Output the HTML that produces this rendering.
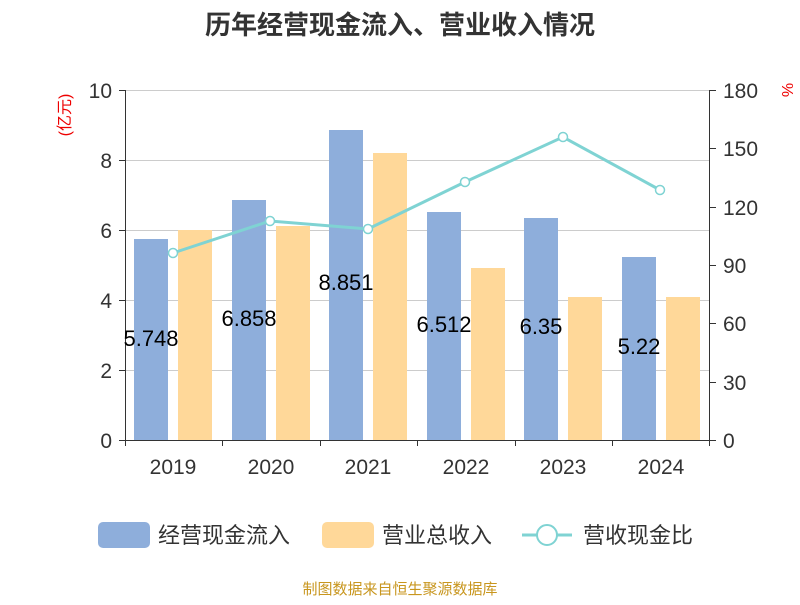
<!DOCTYPE html>
<html><head><meta charset="utf-8"><style>body{margin:0;background:#fff}</style></head><body>
<svg width="800" height="600" xmlns="http://www.w3.org/2000/svg" font-family="'Liberation Sans','Noto Sans CJK SC',sans-serif">
<text x="400" y="34" text-anchor="middle" font-size="26" font-weight="bold" fill="#333">历年经营现金流入、营业收入情况</text>
<g stroke="#ccc" stroke-width="1">
<line x1="125" y1="90.5" x2="710" y2="90.5"/><line x1="125" y1="160.5" x2="710" y2="160.5"/><line x1="125" y1="230.5" x2="710" y2="230.5"/><line x1="125" y1="300.5" x2="710" y2="300.5"/><line x1="125" y1="370.5" x2="710" y2="370.5"/>
</g>
<g fill="#8eaedb">
<rect x="134" y="239" width="34" height="201"/><rect x="232" y="200" width="34" height="240"/><rect x="329" y="130" width="34" height="310"/><rect x="427" y="212" width="34" height="228"/><rect x="524" y="218" width="34" height="222"/><rect x="622" y="257" width="34" height="183"/>
</g>
<g fill="#ffd899">
<rect x="178" y="230" width="34" height="210"/><rect x="276" y="226" width="34" height="214"/><rect x="373" y="153" width="34" height="287"/><rect x="471" y="268" width="34" height="172"/><rect x="568" y="297" width="34" height="143"/><rect x="666" y="297" width="34" height="143"/>
</g>
<g stroke="#333" stroke-width="1" fill="none">
<line x1="125.5" y1="90" x2="125.5" y2="440"/><line x1="709.5" y1="90" x2="709.5" y2="440"/><line x1="125" y1="440.5" x2="710" y2="440.5"/>
<path d="M119 90.5h6M119 160.5h6M119 230.5h6M119 300.5h6M119 370.5h6M119 440.5h6M710 90.5h6M710 148.5h6M710 207.5h6M710 265.5h6M710 323.5h6M710 382.5h6M710 440.5h6M125.5 440v6M222.5 440v6M320.5 440v6M417.5 440v6M515.5 440v6M612.5 440v6M709.5 440v6"/>
</g>
<g font-size="21" fill="#333" text-anchor="end">
<text x="112" y="98">10</text><text x="112" y="168">8</text><text x="112" y="238">6</text><text x="112" y="308">4</text><text x="112" y="378">2</text><text x="112" y="448">0</text>
</g>
<g font-size="21" fill="#333" text-anchor="start">
<text x="723" y="98">180</text><text x="723" y="156">150</text><text x="723" y="215">120</text><text x="723" y="273">90</text><text x="723" y="331">60</text><text x="723" y="390">30</text><text x="723" y="448">0</text>
</g>
<g font-size="21" fill="#333" text-anchor="middle">
<text x="173" y="474">2019</text><text x="271" y="474">2020</text><text x="368" y="474">2021</text><text x="466" y="474">2022</text><text x="563" y="474">2023</text><text x="661" y="474">2024</text>
</g>
<text transform="translate(70,115) rotate(-90)" font-size="16" fill="#e00" text-anchor="middle">(亿元)</text>
<text transform="translate(782,90) rotate(90)" font-size="16" fill="#e00" text-anchor="middle">%</text>
<polyline points="173,253 270,221 368,229 465,182 563,137 660,190" fill="none" stroke="#7fd3d3" stroke-width="3"/>
<g fill="#fff" stroke="#7fd3d3" stroke-width="1.5">
<circle cx="173" cy="253" r="4.5"/><circle cx="270" cy="221" r="4.5"/><circle cx="368" cy="229" r="4.5"/><circle cx="465" cy="182" r="4.5"/><circle cx="563" cy="137" r="4.5"/><circle cx="660" cy="190" r="4.5"/>
</g>
<g font-size="22" fill="#000" text-anchor="middle">
<text x="151" y="346">5.748</text><text x="249" y="326">6.858</text><text x="346" y="290">8.851</text><text x="444" y="332">6.512</text><text x="541" y="334">6.35</text><text x="639" y="354">5.22</text>
</g>
<rect x="98" y="522" width="52" height="26" rx="5" fill="#8eaedb"/>
<text x="158" y="543" font-size="22" fill="#333">经营现金流入</text>
<rect x="322" y="522" width="52" height="26" rx="5" fill="#ffd899"/>
<text x="382" y="543" font-size="22" fill="#333">营业总收入</text>
<line x1="522" y1="535" x2="572" y2="535" stroke="#7fd3d3" stroke-width="3"/>
<circle cx="547" cy="535" r="10" fill="#fff" stroke="#7fd3d3" stroke-width="2"/>
<text x="583" y="543" font-size="22" fill="#333">营收现金比</text>
<text x="400" y="594" font-size="15" fill="#c8961e" text-anchor="middle">制图数据来自恒生聚源数据库</text>
</svg>
</body></html>
